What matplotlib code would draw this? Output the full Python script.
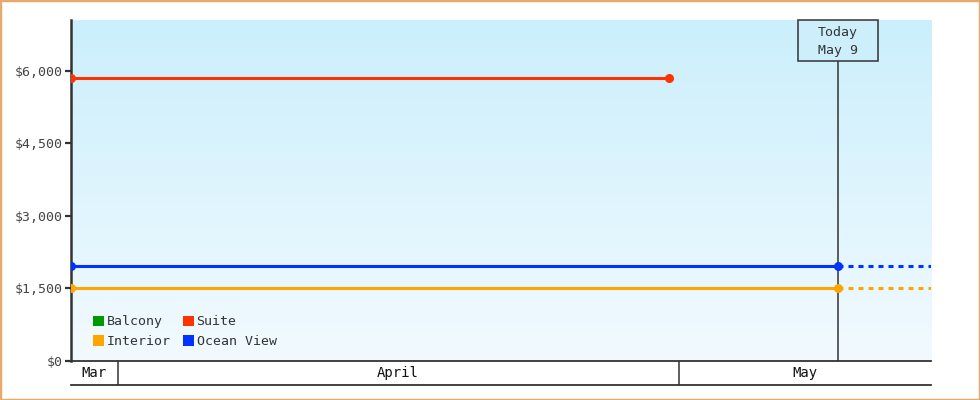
import numpy as np
import pandas as pd
import matplotlib
matplotlib.use("Agg")
import matplotlib.pyplot as plt
import matplotlib.dates as mdates
from matplotlib.patches import Rectangle
from matplotlib.colors import LinearSegmentedColormap
from matplotlib.ticker import FuncFormatter

plt.rcParams['font.family'] = ['DejaVu Sans Mono']
plt.rcParams['lines.scale_dashes'] = False

# data
series_names = ["Balcony", "Suite", "Interior", "Ocean View"]
series_colors = ["#009900", "#ff3300", "#ffa500", "#0033ff"]
suite_dates = ["2025-03-29 12:00", "2025-04-30 12:00"]
suite_prices = [5850, 5850]
ocean_dates = ["2025-03-29 12:00", "2025-05-09 12:00"]
ocean_prices = [1950, 1950]
interior_dates = ["2025-03-29 12:00", "2025-05-09 12:00"]
interior_prices = [1500, 1500]
today = "2025-05-09 12:00"
today_label = "Today\nMay 9"
x_start = "2025-03-29 12:00"
x_end = "2025-05-14 12:00"
month_names = ["Mar", "April", "May"]
month_starts = ["2025-03-01", "2025-04-01", "2025-05-01", "2025-06-01"]
y_ticks = [0, 1500, 3000, 4500, 6000]
y_max = 7050

W, H = 980, 400
fig = plt.figure(figsize=(W / 100, H / 100), dpi=100)
fig.patch.set_facecolor("white")

L, R, T, B = 71, 931, 20, 360.7
ax = fig.add_axes([L / W, 1 - B / H, (R - L) / W, (B - T) / H])
band_bottom = 385.3
ax2 = fig.add_axes([L / W, 1 - band_bottom / H, (R - L) / W, (band_bottom - B) / H])

xs = mdates.date2num(pd.to_datetime(x_start))
xe = mdates.date2num(pd.to_datetime(x_end))
ax.set_xlim(xs, xe)
ax.set_ylim(0, y_max)
ax2.set_xlim(xs, xe)
ax2.set_ylim(0, 1)

# gradient background
cmap = LinearSegmentedColormap.from_list("bg", ["#f2faff", "#cbeffc"])
grad = np.linspace(0, 1, 256).reshape(-1, 1)
ax.imshow(grad, extent=[0, 1, 0, 1], transform=ax.transAxes, aspect="auto",
          cmap=cmap, origin="lower", zorder=0)
ax.set_facecolor("none")

lw = 2.2
ms = 6.5
def draw(dates, prices, color, project=False):
    d = mdates.date2num(pd.to_datetime(dates))
    ax.plot(d, prices, color=color, lw=lw, marker="o", ms=ms, mew=0,
            zorder=4, solid_capstyle="butt")
    if project:
        ax.plot([d[-1], xe], [prices[-1], prices[-1]], color=color, lw=lw,
                dashes=(3.6, 3.6), zorder=3, dash_capstyle="butt")

draw(suite_dates, suite_prices, series_colors[1])
draw(interior_dates, interior_prices, series_colors[2], project=True)
draw(ocean_dates, ocean_prices, series_colors[3], project=True)

# today marker
td = mdates.date2num(pd.to_datetime(today))
ax.axvline(td, color="#333333", lw=1.1, zorder=2)
px, _ = ax.transData.transform((td, 0))
_, py_top = ax.transAxes.transform((0, 1))
box_w, box_h = 80, 41
ax.add_patch(Rectangle((px - box_w / 2, py_top - box_h), box_w, box_h,
                       transform=None, facecolor="#cdeffc", edgecolor="#333333",
                       lw=1.1, zorder=5, clip_on=False))
ax.text(td, 1 - (box_h / 2 + 1) / (B - T), today_label,
        transform=ax.get_xaxis_transform(), ha="center", va="center",
        multialignment="center", fontsize=9.5, color="#333333",
        linespacing=1.45, zorder=6)

# axes styling
for s in ["top", "right"]:
    ax.spines[s].set_visible(False)
ax.spines["left"].set_linewidth(1.8)
ax.spines["left"].set_color("#333333")
ax.spines["bottom"].set_linewidth(1.3)
ax.spines["bottom"].set_color("#333333")
ax.set_xticks([])
ax.set_yticks(y_ticks)
ax.yaxis.set_major_formatter(FuncFormatter(lambda v, p: "${:,.0f}".format(v)))
ax.tick_params(axis="y", length=4.3, width=1.6, color="#333333", pad=1.5,
               labelsize=9.5, labelcolor="#444444")

# month band
for s in ["top", "left", "right"]:
    ax2.spines[s].set_visible(False)
ax2.spines["bottom"].set_linewidth(1.3)
ax2.spines["bottom"].set_color("#333333")
ax2.set_xticks([])
ax2.set_yticks([])
ax2.set_facecolor("none")
ms_num = mdates.date2num(pd.to_datetime(month_starts))
for i, name in enumerate(month_names):
    a = max(ms_num[i], xs)
    b = min(ms_num[i + 1], xe)
    ax2.text((a + b) / 2, 0.5, name, ha="center", va="center",
             fontsize=10, color="#111111")
    if ms_num[i] > xs:
        ax2.axvline(ms_num[i], color="#333333", lw=1.1)

# legend, laid out row by row (matplotlib fills columns first)
order = [0, 2, 1, 3]
handles = [Rectangle((0, 0), 1, 1, facecolor=series_colors[i], edgecolor="none") for i in order]
labels = [series_names[i] for i in order]
leg = ax.legend(handles, labels, ncol=2, loc="lower left",
                bbox_to_anchor=((93 - L) / (R - L), (B - 348) / (B - T)),
                frameon=False, fontsize=9.5, handlelength=0.85, handleheight=0.85,
                handletextpad=0.2, columnspacing=0.9, labelspacing=0.5,
                borderaxespad=0, borderpad=0)
for t in leg.get_texts():
    t.set_color("#333333")

# outer border
fig.patches.append(Rectangle((0, 0), 1, 1, transform=fig.transFigure, fill=False,
                             edgecolor="#e8aa6a", lw=2.5))

fig.savefig("out.png", dpi=100)
